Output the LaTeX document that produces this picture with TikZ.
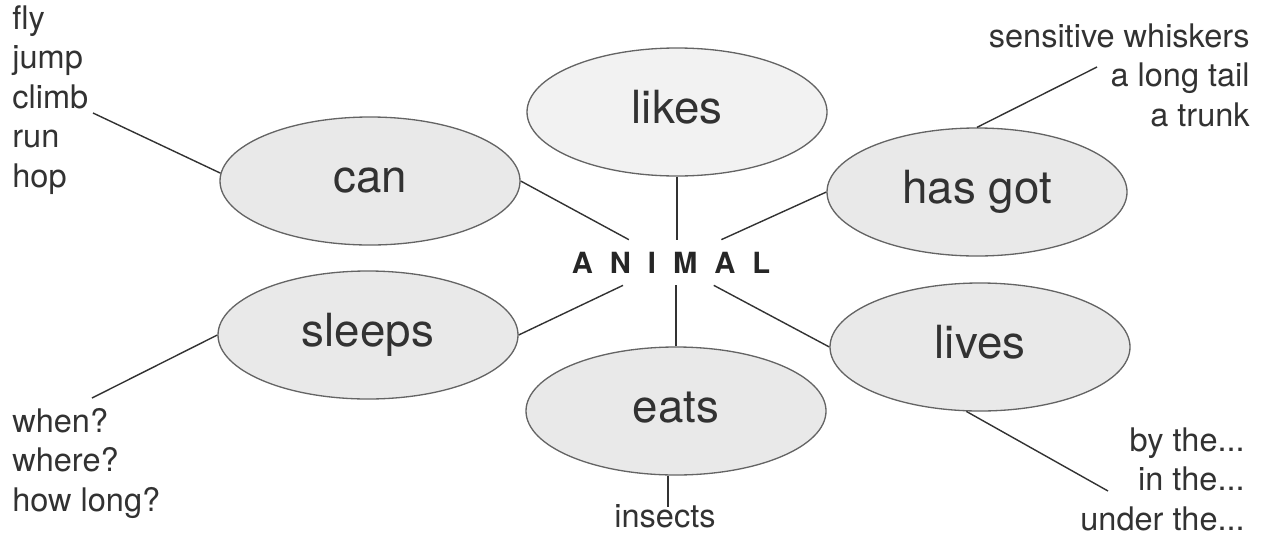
\documentclass[tikz,border=0pt]{standalone}
\usepackage{fontspec}
\setmainfont{TeX Gyre Heros}
\usetikzlibrary{shapes.geometric}
\definecolor{inkcolor}{RGB}{50,50,50}
\definecolor{rimcolor}{RGB}{100,100,100}
\definecolor{fillcolor}{RGB}{233,233,233}
\definecolor{palecolor}{RGB}{242,242,242}
\newcommand{\lgap}{\hspace{3.4mm}}

\begin{document}
\begin{tikzpicture}[x=0.2mm, y=-0.2mm,
    bubble/.style={ellipse, draw=rimcolor, fill=fillcolor, line width=0.75pt,
      minimum width=60mm, minimum height=25.6mm, inner sep=0pt,
      text height=4.4mm, text depth=0pt, text=inkcolor,
      font=\fontsize{26}{30}\selectfont},
    wordlist/.style={inner sep=0pt, text=inkcolor,
      font=\fontsize{18.5}{22.5}\selectfont},
    link/.style={draw=inkcolor, line width=0.8pt}]
  \useasboundingbox (0,0) rectangle (1265,536);
  % centre word
  \node[font=\fontsize{16.6}{20}\selectfont\bfseries, text=black!85,
    text height=4.2mm, text depth=0pt, inner xsep=2mm, inner ysep=2.4mm]
    (animal) at (671,262.5) {A\lgap N\lgap I\lgap M\lgap A\lgap L};
  % bubbles round it
  \node[bubble, fill=palecolor] (likes) at (677,112) {likes};
  \node[bubble] (can) at (370,181) {can};
  \node[bubble] (hasgot) at (977,192) {has got};
  \node[bubble] (sleeps) at (368,335) {sleeps};
  \node[bubble] (lives) at (980,347) {lives};
  \node[bubble] (eats) at (676,411) {eats};
  % word lists
  \node[wordlist, anchor=north west, align=left] (canlist) at (12,5)
    {fly\\jump\\climb\\run\\hop};
  \node[wordlist, anchor=north east, align=right] (hasgotlist) at (1250,23)
    {sensitive whiskers\\a long tail\\a trunk};
  \node[wordlist, anchor=north west, align=left] (sleepslist) at (12,408)
    {when?\\where?\\how long?};
  \node[wordlist, anchor=north east, align=right] (liveslist) at (1245,427)
    {by the...\\in the...\\under the...};
  \node[wordlist, anchor=base] (eatslist) at (665,527) {insects};
  % free ends of the outer links
  \coordinate (canend) at (93,113);
  \coordinate (hasgotend) at (1097,67);
  \coordinate (sleepsend) at (92,398);
  \coordinate (livesend) at (1108,491);
  \coordinate (eatsend) at (668,507);
  % links to the centre word
  \draw[link] (can.east) -- (animal);
  \draw[link] (likes.south) -- (likes.south |- animal.north);
  \draw[link] (hasgot.west) -- (animal);
  \draw[link] (sleeps.east) -- (animal);
  \draw[link] (eats.north) -- (eats.north |- animal.south);
  \draw[link] (lives.west) -- (animal);
  % links to the word lists
  \draw[link] (can.177) -- (canend);
  \draw[link] (hasgot.north) -- (hasgotend);
  \draw[link] (sleeps.west) -- (sleepsend);
  \draw[link] (lives.258) -- (livesend);
  \draw[link] (eats.south -| eatsend) -- (eatsend);
\end{tikzpicture}
\end{document}
